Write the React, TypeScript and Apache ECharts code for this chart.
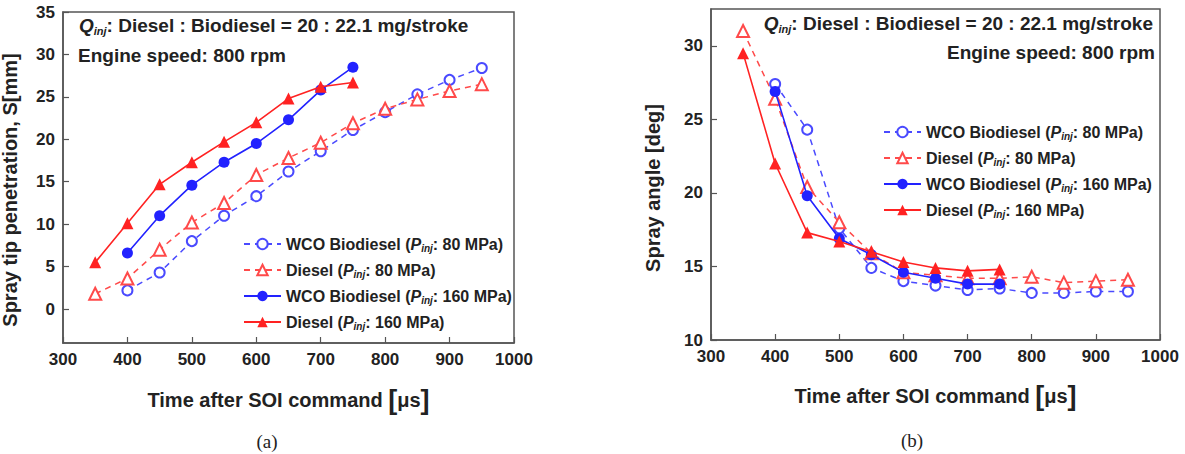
import React, { useEffect, useRef } from 'react';
import * as echarts from 'echarts';

// ---------- data ----------
const xWco80 = [400, 450, 500, 550, 600, 650, 700, 750, 800, 850, 900, 950];
const xD80 = [350, 400, 450, 500, 550, 600, 650, 700, 750, 800, 850, 900, 950];
const xWco160 = [400, 450, 500, 550, 600, 650, 700, 750];
const xD160 = [350, 400, 450, 500, 550, 600, 650, 700, 750];

// (a) spray tip penetration [mm]
const penWco80 = [2.2, 4.3, 8.0, 11.0, 13.3, 16.2, 18.6, 21.1, 23.2, 25.3, 27.0, 28.4];
const penD80 = [1.8, 3.6, 7.0, 10.2, 12.5, 15.8, 17.8, 19.6, 21.9, 23.6, 24.7, 25.7, 26.5];
const penWco160 = [6.6, 11.0, 14.6, 17.3, 19.5, 22.3, 25.8, 28.5];
const penD160 = [5.5, 10.1, 14.7, 17.3, 19.7, 22.0, 24.8, 26.2, 26.7];

// (b) spray angle [deg]
const angWco80 = [27.4, 24.3, 17.6, 14.9, 14.0, 13.7, 13.4, 13.5, 13.2, 13.2, 13.3, 13.3];
const angD80 = [31.0, 26.4, 20.4, 18.0, 15.9, 14.6, 14.4, 14.2, 14.2, 14.3, 13.9, 14.0, 14.1];
const angWco160 = [26.9, 19.8, 16.9, 15.8, 14.6, 14.2, 13.8, 13.8];
const angD160 = [29.5, 22.0, 17.3, 16.7, 16.0, 15.3, 14.9, 14.7, 14.8];

const penTicks = [0, 5, 10, 15, 20, 25, 30, 35];
const angTicks = [10, 15, 20, 25, 30];

const N_WCO80 = 'WCO Biodiesel (Pinj: 80 MPa)';
const N_D80 = 'Diesel (Pinj: 80 MPa)';
const N_WCO160 = 'WCO Biodiesel (Pinj: 160 MPa)';
const N_D160 = 'Diesel (Pinj: 160 MPa)';

const legendRich: Record<string, string> = {
  [N_WCO80]: '{b|WCO Biodiesel (}{i|P}{s|inj}{b|: 80 MPa)}',
  [N_D80]: '{b|Diesel (}{i|P}{s|inj}{b|: 80 MPa)}',
  [N_WCO160]: '{b|WCO Biodiesel (}{i|P}{s|inj}{b|: 160 MPa)}',
  [N_D160]: '{b|Diesel (}{i|P}{s|inj}{b|: 160 MPa)}',
};

const FONT = "'Liberation Sans', Arial, Helvetica, sans-serif";
const SERIF = "'Liberation Serif', 'Times New Roman', serif";
const BLUE = '#2222ff';
const RED = '#ff2222';
const BLUE_L = '#4a4aff';
const RED_L = '#ff4a4a';
const AXIS = '#555';
const TXT = '#222';

const pairs = (xs: number[], ys: number[]) => xs.map((x, i) => [x, ys[i]]);

function makeSeries(gi: number, d: { wco80: number[]; d80: number[]; wco160: number[]; d160: number[] }) {
  const base = { type: 'line', xAxisIndex: gi, yAxisIndex: gi, smooth: false };
  return [
    {
      ...base, name: N_WCO80, data: pairs(xWco80, d.wco80), symbol: 'emptyCircle', symbolSize: 10,
      itemStyle: { color: BLUE_L, borderWidth: 1.3 }, lineStyle: { color: BLUE_L, width: 1.5, type: [6, 5] }, z: 2,
    },
    {
      ...base, name: N_D80, data: pairs(xD80, d.d80), symbol: 'emptyTriangle', symbolSize: 12,
      itemStyle: { color: RED_L, borderWidth: 1.3 }, lineStyle: { color: RED_L, width: 1.5, type: [6, 5] }, z: 2,
    },
    {
      ...base, name: N_WCO160, data: pairs(xWco160, d.wco160), symbol: 'circle', symbolSize: 11,
      itemStyle: { color: BLUE }, lineStyle: { color: BLUE, width: 1.6 }, z: 3,
    },
    {
      ...base, name: N_D160, data: pairs(xD160, d.d160), symbol: 'triangle', symbolSize: 12,
      itemStyle: { color: RED }, lineStyle: { color: RED, width: 1.6 }, z: 4,
    },
  ];
}

const xAxisCfg = (gi: number) => ({
  type: 'value', gridIndex: gi, min: 300, max: 1000, interval: 100,
  axisLine: { show: true, onZero: false, lineStyle: { color: AXIS, width: 1.5 } },
  axisTick: { show: true, inside: true, length: 6, lineStyle: { color: AXIS, width: 1.2 } },
  axisLabel: { fontSize: 17, fontWeight: 'bold', color: TXT, fontFamily: FONT, margin: 8, formatter: (v: number) => String(v) },
  splitLine: { show: false },
});

const yAxisCfg = (gi: number, min: number, max: number, ticks: number[]) => ({
  type: 'value', gridIndex: gi, min, max,
  axisLine: { show: true, onZero: false, lineStyle: { color: AXIS, width: 1.5 } },
  axisTick: { show: true, inside: true, length: 6, lineStyle: { color: AXIS, width: 1.2 }, customValues: ticks },
  axisLabel: { fontSize: 17, fontWeight: 'bold', color: TXT, fontFamily: FONT, margin: 8, customValues: ticks, formatter: (v: number) => String(v) },
  splitLine: { show: false },
});

const legendCfg = (left: number, top: number) => ({
  orient: 'vertical', left, top, itemWidth: 37, itemHeight: 13, itemGap: 8,
  data: [N_WCO80, N_D80, N_WCO160, N_D160],
  formatter: (name: string) => legendRich[name] || name,
  textStyle: {
    color: TXT, fontFamily: FONT, fontSize: 16, fontWeight: 'bold', lineHeight: 18,
    rich: {
      b: { fontSize: 16, fontWeight: 'bold', fontFamily: FONT, color: TXT, lineHeight: 18 },
      i: { fontSize: 16, fontWeight: 'bold', fontStyle: 'italic', fontFamily: FONT, color: TXT, lineHeight: 18 },
      s: { fontSize: 10, fontWeight: 'bold', fontStyle: 'italic', fontFamily: FONT, color: TXT, lineHeight: 6, verticalAlign: 'bottom' },
    },
  },
});

const qRich = {
  q: { fontSize: 19, fontWeight: 'bold', fontStyle: 'italic', fontFamily: FONT, fill: TXT, lineHeight: 22 },
  s: { fontSize: 11, fontWeight: 'bold', fontStyle: 'italic', fontFamily: FONT, fill: TXT, lineHeight: 6, verticalAlign: 'bottom' },
  b: { fontSize: 19, fontWeight: 'bold', fontFamily: FONT, fill: TXT, lineHeight: 22 },
};
const qText = '{q|Q}{s|inj}{b|: Diesel : Biodiesel = 20 : 22.1 mg/stroke}';

const titleRich = {
  t: { fontSize: 20, fontWeight: 'bold', fontFamily: FONT, fill: TXT, lineHeight: 26 },
  br: { fontSize: 27, fontWeight: 'bold', fontFamily: FONT, fill: TXT, lineHeight: 26 },
};
const xTitle = '{t|Time after SOI command }{br|[}{t|μs}{br|]}';

export default function App() {
  const ref = useRef<HTMLDivElement>(null);
  useEffect(() => {
    if (!ref.current) return;
    const chart = echarts.init(ref.current, undefined, { renderer: 'svg' });
    const option: any = {
      animation: false,
      backgroundColor: '#fff',
      grid: [
        { left: 63, top: 12, width: 451, height: 331, show: true, borderColor: AXIS, borderWidth: 1.5, outerBoundsMode: 'none' },
        { left: 711, top: 9, width: 449, height: 331, show: true, borderColor: AXIS, borderWidth: 1.5, outerBoundsMode: 'none' },
      ],
      xAxis: [xAxisCfg(0), xAxisCfg(1)],
      yAxis: [yAxisCfg(0, -4, 35, penTicks), yAxisCfg(1, 10, 32.5, angTicks)],
      legend: [legendCfg(238, 230), legendCfg(878, 118)],
      series: [
        ...makeSeries(0, { wco80: penWco80, d80: penD80, wco160: penWco160, d160: penD160 }),
        ...makeSeries(1, { wco80: angWco80, d80: angD80, wco160: angWco160, d160: angD160 }),
      ],
      graphic: [
        { type: 'text', x: 79, y: 25, z: 10, style: { text: qText, rich: qRich, verticalAlign: 'middle', align: 'left' } },
        { type: 'text', x: 78, y: 55, z: 10, style: { text: 'Engine speed: 800 rpm', font: `bold 19px ${FONT}`, fill: TXT, verticalAlign: 'middle', align: 'left' } },
        { type: 'text', x: 1153, y: 23, z: 10, style: { text: qText, rich: qRich, verticalAlign: 'middle', align: 'right' } },
        { type: 'text', x: 1155, y: 52, z: 10, style: { text: 'Engine speed: 800 rpm', font: `bold 19px ${FONT}`, fill: TXT, verticalAlign: 'middle', align: 'right' } },
        { type: 'text', x: 288.5, y: 400, style: { text: xTitle, rich: titleRich, verticalAlign: 'middle', align: 'center' } },
        { type: 'text', x: 935.5, y: 396, style: { text: xTitle, rich: titleRich, verticalAlign: 'middle', align: 'center' } },
        { type: 'text', x: 10, y: 190, rotation: Math.PI / 2, style: { text: 'Spray tip penetration, S[mm]', font: `bold 20px ${FONT}`, fill: TXT, verticalAlign: 'middle', align: 'center' } },
        { type: 'text', x: 653, y: 188, rotation: Math.PI / 2, style: { text: 'Spray angle [deg]', font: `bold 20px ${FONT}`, fill: TXT, verticalAlign: 'middle', align: 'center' } },
        { type: 'text', x: 267, y: 441, style: { text: '(a)', font: `19px ${SERIF}`, fill: TXT, verticalAlign: 'middle', align: 'center' } },
        { type: 'text', x: 912, y: 440, style: { text: '(b)', font: `19px ${SERIF}`, fill: TXT, verticalAlign: 'middle', align: 'center' } },
      ],
    };
    chart.setOption(option);
    return () => chart.dispose();
  }, []);
  return <div ref={ref} style={{ position: 'absolute', left: 0, top: 0, width: 1185, height: 454 }} />;
}
